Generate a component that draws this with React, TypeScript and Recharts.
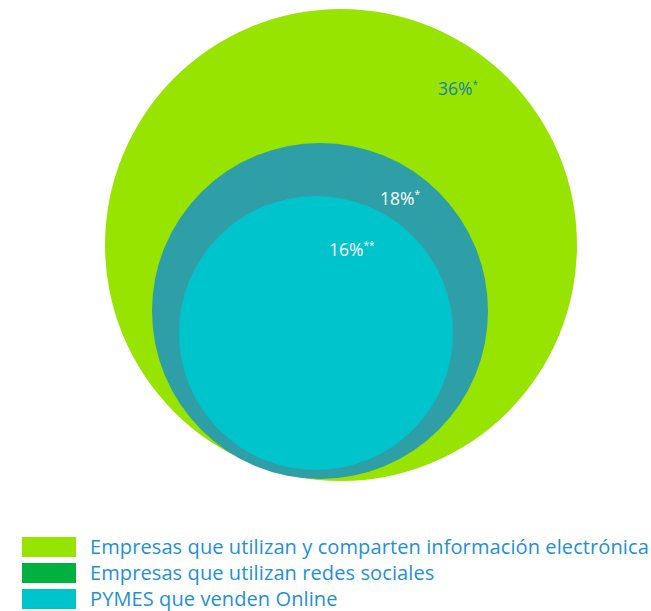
import React from 'react';
import { ScatterChart, Scatter, XAxis, YAxis, ZAxis } from 'recharts';

// chart values
const categories = [
  'Empresas que utilizan y comparten información electrónica',
  'Empresas que utilizan redes sociales',
  'PYMES que venden Online',
];
const values = [36, 18, 16];
const footnotes = ['*', '*', '**'];

// layout of the nested circles, in chart units (1 unit = 1px)
const centerX = [341, 320, 316];
const centerY = [245, 311, 333];
const radius = [236, 168, 137];
const labelX = [438, 380, 329];
const labelY = [95, 205, 256];

const circleColors = ['#97e400', '#2e9fa6', '#00c4cc'];
const swatchColors = ['#97e400', '#00b140', '#00c4cc'];
const labelColors = ['#1a82a3', '#ffffff', '#ffffff'];

const W = 651;
const H = 500;
const AREA_MAX = 100000;

const circles = categories.map((name, i) => ({
  name,
  x: centerX[i],
  y: centerY[i],
  area: radius[i] * radius[i],
}));

const labels = values.map((v, i) => ({
  x: labelX[i],
  y: labelY[i],
  text: `${v}%`,
  note: footnotes[i],
  color: labelColors[i],
}));

const LabelShape = (props: any) => {
  const { cx, cy, payload } = props;
  return (
    <text x={cx} y={cy} fill={payload.color} fontSize={17.5} fontFamily="'Open Sans', sans-serif">
      {payload.text}
      <tspan fontSize={10} dy={-7}>{payload.note}</tspan>
    </text>
  );
};

export default function App() {
  return (
    <div style={{ position: 'absolute', left: 0, top: 0, width: W, height: 611, background: '#fff' }}>
      <ScatterChart width={W} height={H} margin={{ top: 0, right: 0, bottom: 0, left: 0 }}>
        <XAxis type="number" dataKey="x" domain={[0, W]} hide />
        <YAxis type="number" dataKey="y" domain={[0, H]} reversed hide />
        <ZAxis type="number" dataKey="area" domain={[0, AREA_MAX]} range={[0, AREA_MAX * Math.PI]} />
        {circles.map((c, i) => (
          <Scatter
            key={c.name}
            name={c.name}
            data={[c]}
            fill={circleColors[i]}
            shape="circle"
            isAnimationActive={false}
          />
        ))}
        <Scatter data={labels} shape={LabelShape} isAnimationActive={false} />
      </ScatterChart>
      <div style={{ position: 'absolute', left: 22, top: 537 }}>
        {categories.map((name, i) => (
          <div key={name} style={{ display: 'flex', alignItems: 'center', height: 20, marginBottom: 6 }}>
            <div style={{ width: 54, height: 20, background: swatchColors[i] }} />
            <span
              style={{
                marginLeft: 14,
                color: '#1e90d8',
                fontFamily: "'Open Sans', sans-serif",
                fontSize: 20,
                letterSpacing: 0.1,
                lineHeight: '20px',
                whiteSpace: 'nowrap',
              }}
            >
              {name}
            </span>
          </div>
        ))}
      </div>
    </div>
  );
}
